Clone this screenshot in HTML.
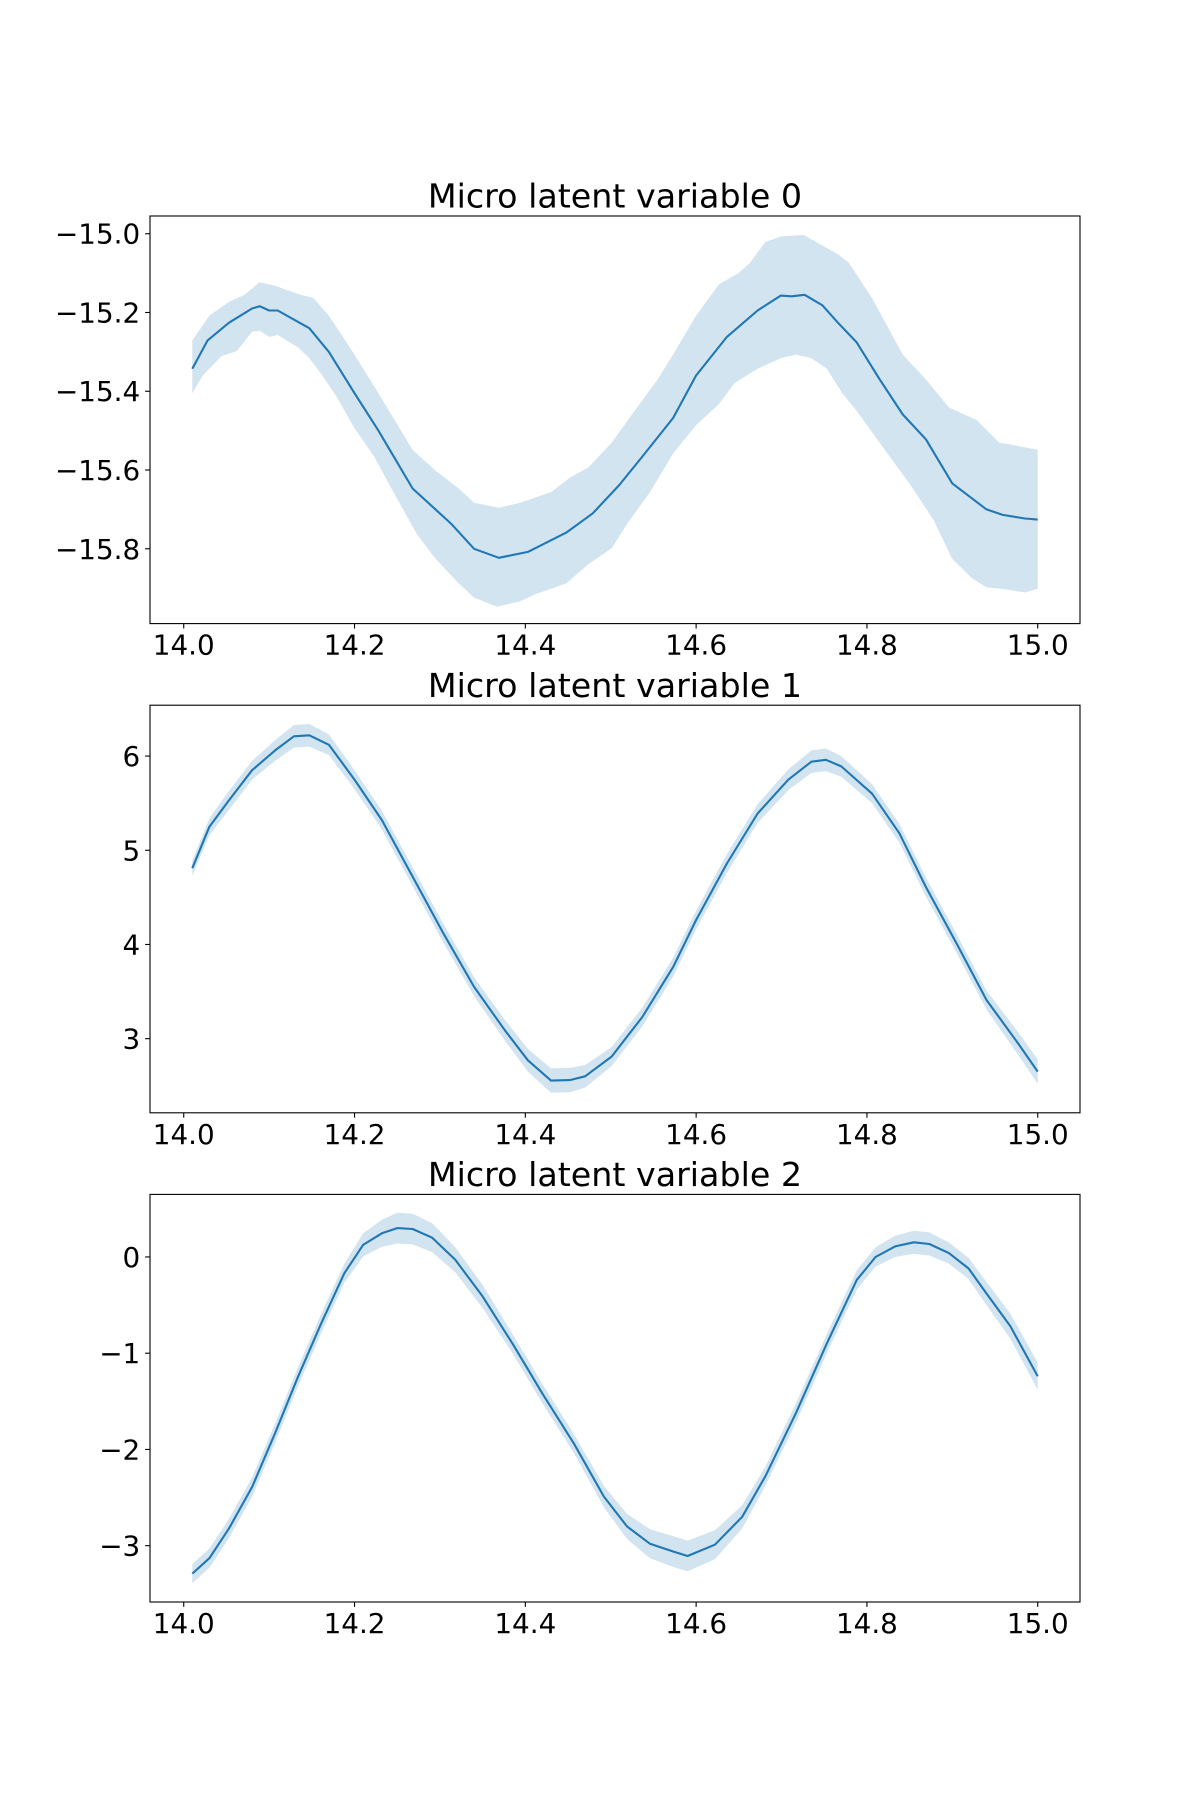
<!DOCTYPE html>
<html><head><meta charset="utf-8"><style>
html,body{margin:0;padding:0;background:#fff;}
svg{display:block;font-family:"DejaVu Sans","Liberation Sans",sans-serif;}
</style></head><body>
<svg id="fig" width="1200" height="1800" viewBox="0 0 1200 1800" xmlns="http://www.w3.org/2000/svg"></svg>
<script>
// ---- Panel 0 data ----
const p0MeanX=[14.01,14.028,14.053,14.08,14.089,14.10,14.11,14.147,14.17,14.20,14.228,14.268,14.313,14.34,14.369,14.403,14.448,14.479,14.51,14.537,14.573,14.60,14.636,14.672,14.699,14.712,14.727,14.748,14.766,14.788,14.815,14.842,14.869,14.90,14.94,14.959,14.985,15.0];
const p0MeanY=[-15.343,-15.271,-15.226,-15.19,-15.184,-15.195,-15.195,-15.24,-15.30,-15.405,-15.50,-15.647,-15.736,-15.80,-15.823,-15.808,-15.759,-15.71,-15.638,-15.566,-15.468,-15.36,-15.262,-15.195,-15.157,-15.159,-15.155,-15.182,-15.226,-15.276,-15.37,-15.459,-15.522,-15.634,-15.70,-15.714,-15.723,-15.726];
const p0UpX=[14.01,14.03,14.053,14.071,14.089,14.107,14.134,14.152,14.17,14.20,14.228,14.268,14.295,14.322,14.34,14.369,14.394,14.43,14.452,14.474,14.501,14.528,14.555,14.573,14.60,14.627,14.649,14.663,14.681,14.699,14.726,14.744,14.766,14.779,14.806,14.842,14.869,14.896,14.914,14.928,14.955,14.968,15.0];
const p0UpY=[-15.271,-15.208,-15.173,-15.155,-15.123,-15.132,-15.153,-15.164,-15.208,-15.307,-15.405,-15.549,-15.602,-15.647,-15.683,-15.696,-15.683,-15.656,-15.62,-15.593,-15.531,-15.45,-15.37,-15.307,-15.208,-15.128,-15.101,-15.074,-15.021,-15.007,-15.003,-15.025,-15.052,-15.074,-15.164,-15.307,-15.37,-15.441,-15.459,-15.472,-15.531,-15.535,-15.549];
const p0LoX=[14.01,14.022,14.044,14.062,14.08,14.089,14.10,14.11,14.134,14.147,14.161,14.179,14.20,14.223,14.241,14.273,14.295,14.322,14.34,14.367,14.394,14.412,14.448,14.474,14.501,14.519,14.546,14.573,14.60,14.627,14.645,14.672,14.69,14.699,14.717,14.735,14.753,14.771,14.788,14.806,14.824,14.851,14.878,14.90,14.923,14.94,14.959,14.985,15.0];
const p0LoY=[-15.405,-15.361,-15.311,-15.298,-15.249,-15.246,-15.262,-15.257,-15.289,-15.316,-15.356,-15.414,-15.494,-15.566,-15.638,-15.763,-15.826,-15.888,-15.924,-15.947,-15.933,-15.915,-15.888,-15.839,-15.799,-15.737,-15.656,-15.558,-15.486,-15.432,-15.379,-15.343,-15.325,-15.316,-15.307,-15.316,-15.343,-15.405,-15.45,-15.504,-15.558,-15.638,-15.727,-15.826,-15.875,-15.898,-15.902,-15.911,-15.902];
const p0Ticks=[-15.0,-15.2,-15.4,-15.6,-15.8];
const p0TickLabels=["−15.0","−15.2","−15.4","−15.6","−15.8"];
// ---- Panel 1 data ----
const p1X=[14.01,14.03,14.053,14.08,14.107,14.129,14.147,14.17,14.20,14.232,14.268,14.304,14.34,14.376,14.403,14.43,14.452,14.47,14.501,14.537,14.573,14.60,14.636,14.672,14.708,14.735,14.752,14.77,14.806,14.838,14.869,14.905,14.94,14.977,15.0];
const p1Mean=[4.81,5.25,5.53,5.85,6.06,6.21,6.22,6.12,5.75,5.32,4.72,4.12,3.55,3.09,2.77,2.555,2.56,2.60,2.81,3.23,3.76,4.26,4.86,5.39,5.75,5.94,5.96,5.89,5.60,5.18,4.61,4.01,3.41,2.95,2.65];
const p1Half=[0.08,0.09,0.1,0.1,0.11,0.12,0.12,0.11,0.1,0.1,0.1,0.1,0.1,0.11,0.12,0.13,0.13,0.12,0.1,0.1,0.1,0.1,0.1,0.1,0.11,0.12,0.12,0.11,0.1,0.1,0.1,0.1,0.1,0.12,0.13];
const p1Ticks=[3,4,5,6];
const p1TickLabels=["3","4","5","6"];
// ---- Panel 2 data ----
const p2X=[14.01,14.03,14.053,14.08,14.107,14.134,14.161,14.188,14.21,14.232,14.25,14.268,14.291,14.318,14.35,14.385,14.42,14.457,14.492,14.519,14.546,14.573,14.59,14.622,14.654,14.681,14.717,14.753,14.788,14.81,14.833,14.855,14.873,14.896,14.919,14.94,14.968,15.0];
const p2Mean=[-3.29,-3.13,-2.82,-2.39,-1.83,-1.24,-0.69,-0.17,0.125,0.246,0.30,0.29,0.20,-0.03,-0.41,-0.90,-1.42,-1.94,-2.49,-2.80,-2.98,-3.06,-3.107,-2.99,-2.70,-2.28,-1.62,-0.90,-0.24,0.0,0.11,0.152,0.135,0.04,-0.12,-0.38,-0.72,-1.24];
const p2Half=[0.1,0.1,0.1,0.1,0.1,0.1,0.1,0.1,0.12,0.14,0.16,0.16,0.15,0.13,0.12,0.1,0.1,0.1,0.11,0.13,0.15,0.16,0.16,0.15,0.12,0.1,0.1,0.1,0.1,0.1,0.11,0.12,0.12,0.11,0.11,0.12,0.13,0.14];
const p2Ticks=[-3,-2,-1,0];
const p2TickLabels=["−3","−2","−1","0"];
const xTicks=[14.0,14.2,14.4,14.6,14.8,15.0];
const xTickLabels=["14.0","14.2","14.4","14.6","14.8","15.0"];
const titles=["Micro latent variable 0","Micro latent variable 1","Micro latent variable 2"];

const NS="http://www.w3.org/2000/svg";
const svg=document.getElementById('fig');
const L=150,R=1080,XMIN=13.9605,XMAX=15.0495;
const panels=[
 {top:216,bot:623.6,ymin:-15.990,ymax:-14.955,ticks:p0Ticks,labels:p0TickLabels},
 {top:705.2,bot:1112.8,ymin:2.213,ymax:6.54,ticks:p1Ticks,labels:p1TickLabels},
 {top:1194.4,bot:1602,ymin:-3.585,ymax:0.65,ticks:p2Ticks,labels:p2TickLabels}
];
function el(tag,attrs,parent){const e=document.createElementNS(NS,tag);for(const k in attrs)e.setAttribute(k,attrs[k]);(parent||svg).appendChild(e);return e;}
function xs(v){return L+(v-XMIN)/(XMAX-XMIN)*(R-L);}
function mkY(p){return v=>p.bot-(v-p.ymin)/(p.ymax-p.ymin)*(p.bot-p.top);}

const bands=[
 {upX:p0UpX,upY:p0UpY,loX:p0LoX,loY:p0LoY,mX:p0MeanX,mY:p0MeanY},
 {upX:p1X,upY:p1Mean.map((m,i)=>m+p1Half[i]),loX:p1X,loY:p1Mean.map((m,i)=>m-p1Half[i]),mX:p1X,mY:p1Mean},
 {upX:p2X,upY:p2Mean.map((m,i)=>m+p2Half[i]),loX:p2X,loY:p2Mean.map((m,i)=>m-p2Half[i]),mX:p2X,mY:p2Mean}
];

panels.forEach((p,i)=>{
  const ys=mkY(p);
  const g=el('g',{});
  
  
  const b=bands[i];
  let pts=[];
  b.upX.forEach((x,k)=>pts.push(xs(x).toFixed(1)+','+ys(b.upY[k]).toFixed(1)));
  for(let k=b.loX.length-1;k>=0;k--)pts.push(xs(b.loX[k]).toFixed(1)+','+ys(b.loY[k]).toFixed(1));
  const band=el('polygon',{points:pts.join(' '),fill:'#1f77b4','fill-opacity':'0.2',stroke:'none'},g);
  
  
  const lp=b.mX.map((x,k)=>xs(x).toFixed(1)+','+ys(b.mY[k]).toFixed(1)).join(' ');
  const line=el('polyline',{points:lp,fill:'none',stroke:'#1f77b4','stroke-width':'2.1','stroke-linejoin':'round'},g);
  
  
  const fr=el('rect',{x:L,y:p.top,width:R-L,height:p.bot-p.top,fill:'none',stroke:'#000','stroke-width':'1.1'},g);
  
  
  p.ticks.forEach((t,k)=>{
    const y=ys(t);
    el('line',{x1:L-4.9,x2:L,y1:y,y2:y,stroke:'#000','stroke-width':'1.1'},g);
    const tx=el('text',{x:140.2,y:y+10,'text-anchor':'end','font-size':'27.8',fill:'#000'},g);
    tx.textContent=p.labels[k];
    
    
  });
  xTicks.forEach((t,k)=>{
    const x=xs(t);
    el('line',{x1:x,x2:x,y1:p.bot,y2:p.bot+4.9,stroke:'#000','stroke-width':'1.1'},g);
    const tx=el('text',{x:x,y:p.bot+31,'text-anchor':'middle','font-size':'27.8',fill:'#000'},g);
    tx.textContent=xTickLabels[k];
    
    
  });
  const ti=el('text',{x:(L+R)/2,y:p.top-8.3,'text-anchor':'middle','font-size':'33.3',fill:'#000'},g);
  ti.textContent=titles[i];
  
  
});
</script>
</body></html>
